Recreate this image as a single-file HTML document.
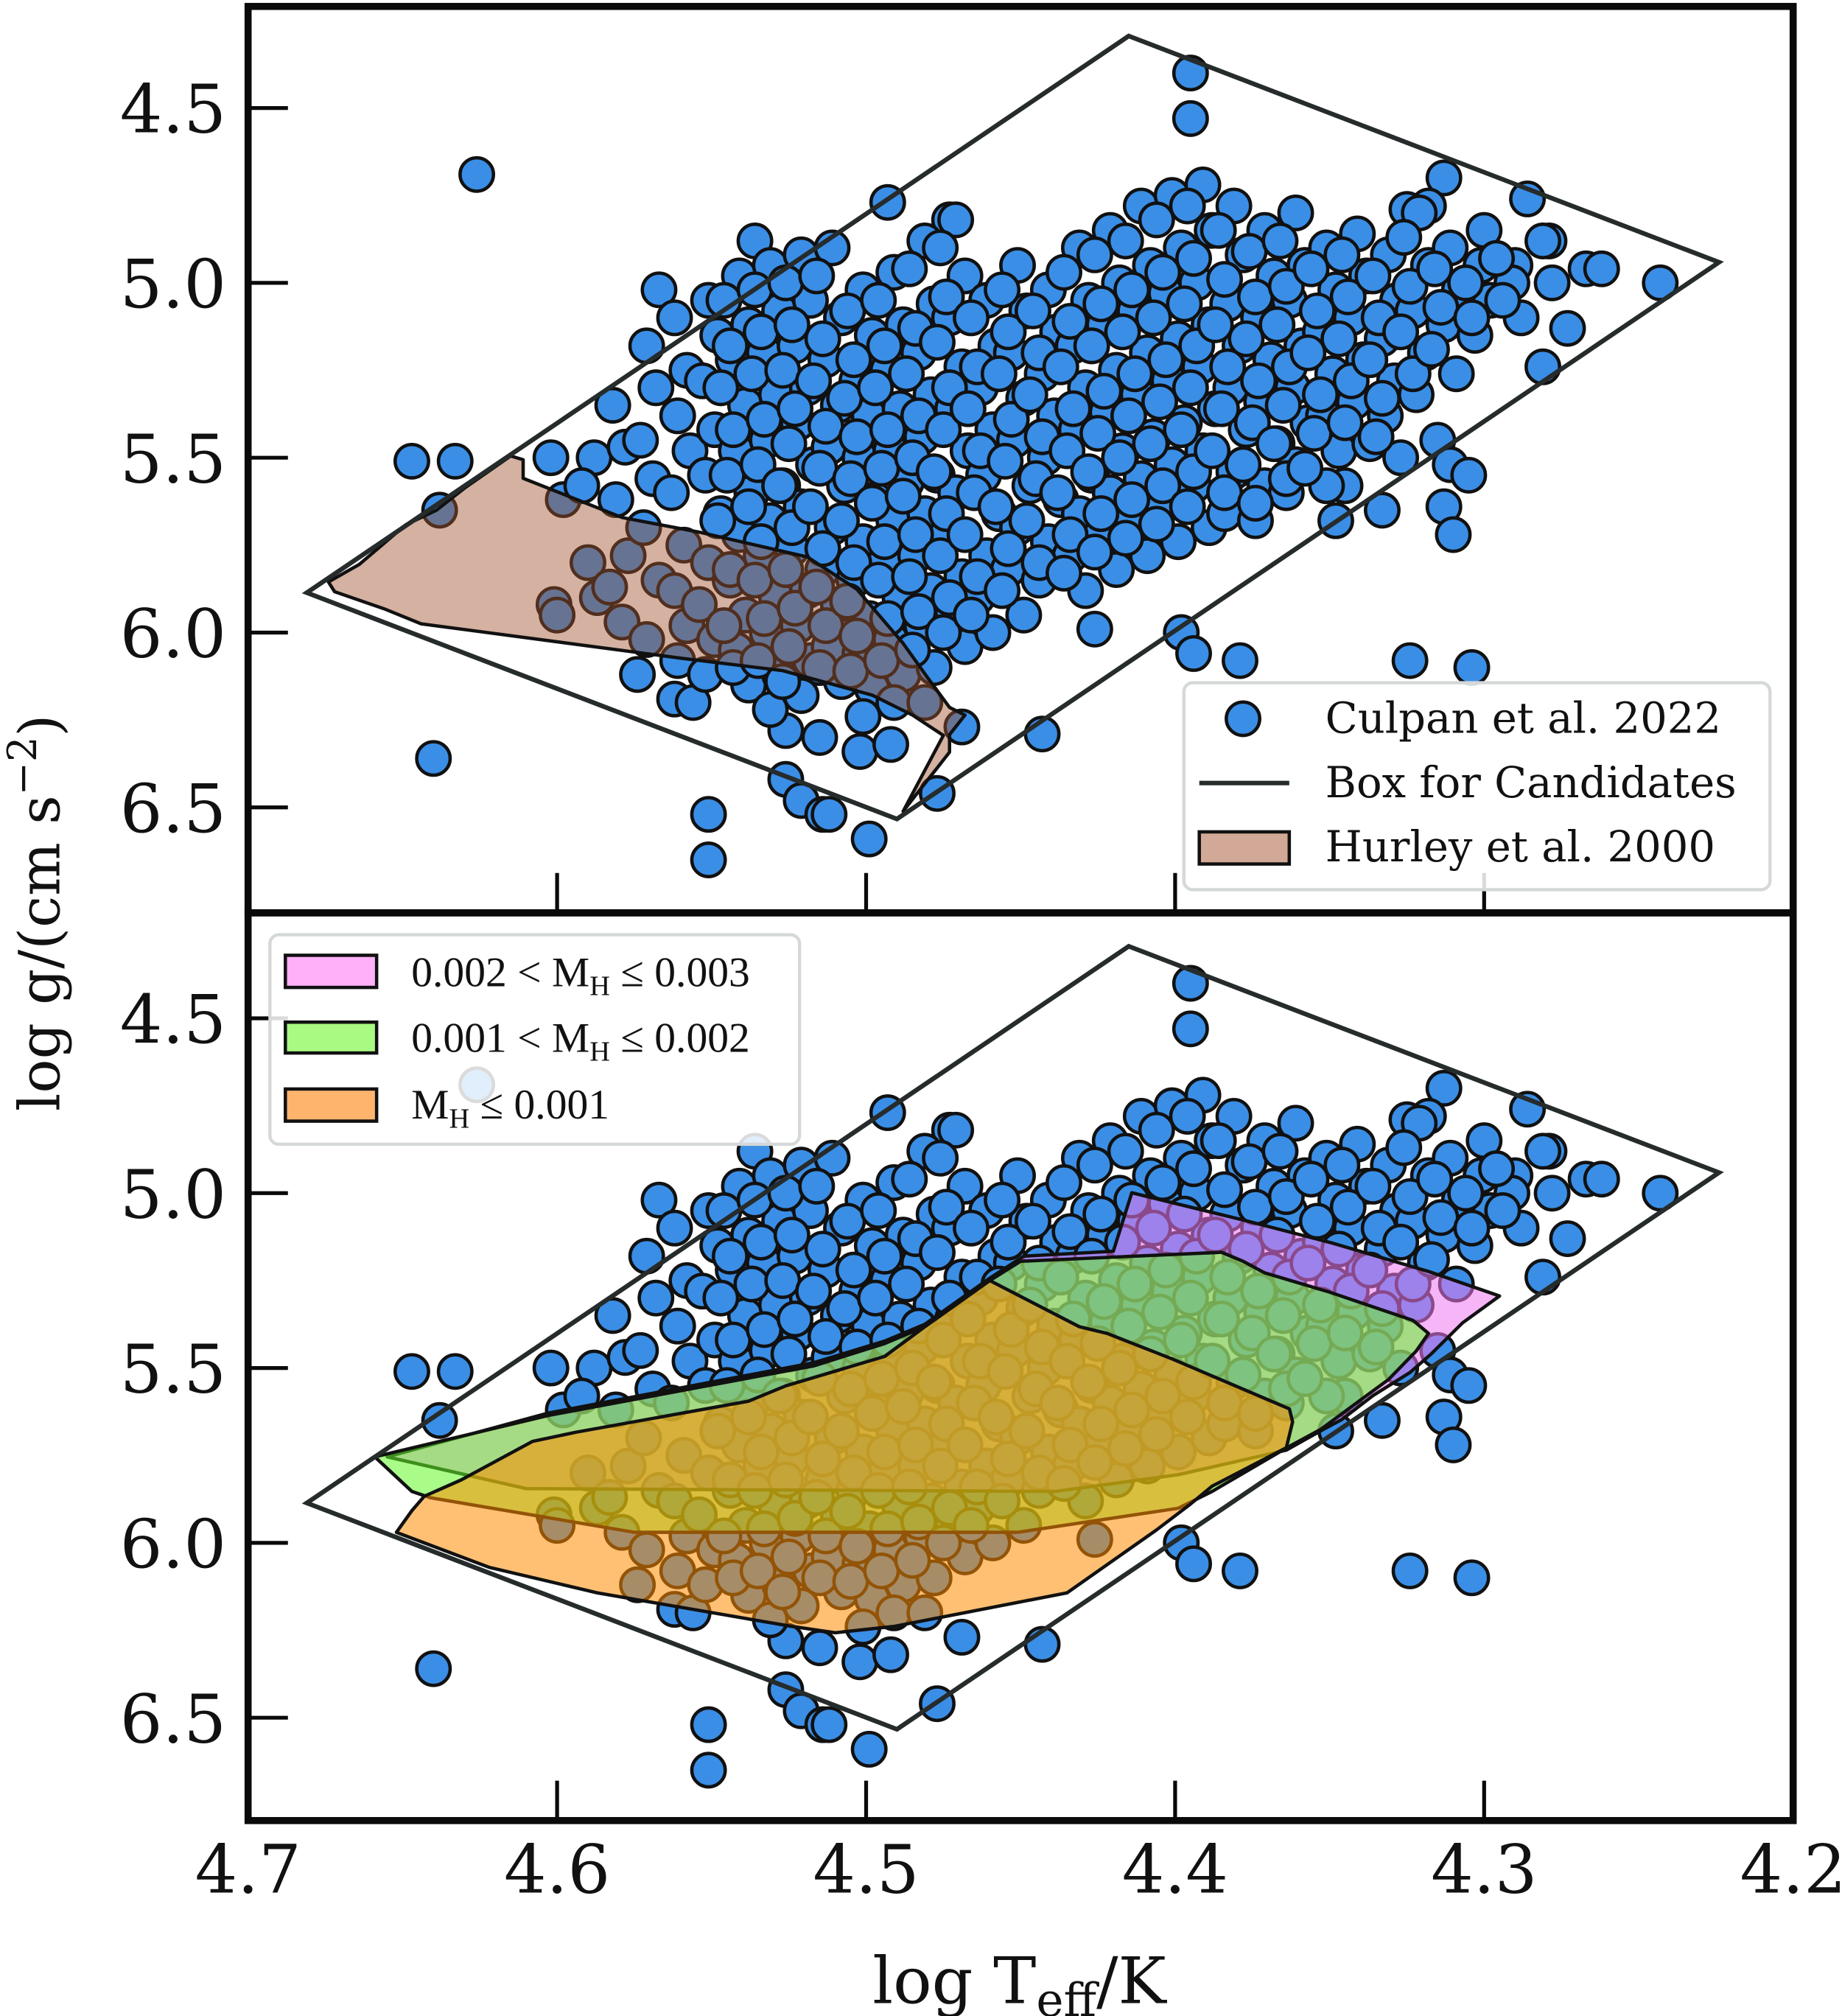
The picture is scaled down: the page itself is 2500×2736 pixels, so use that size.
<!DOCTYPE html>
<html><head><meta charset="utf-8"><title>log g vs log Teff</title>
<style>html,body{margin:0;padding:0;background:#fff;}svg{display:block;}</style></head>
<body>
<svg id="chart" xmlns="http://www.w3.org/2000/svg" width="2500" height="2736" viewBox="0 0 1433 1568" preserveAspectRatio="none">
<rect x="0" y="0" width="1433" height="1568" fill="#fff"/>
<g id="topPanel"></g>
<g id="botPanel"></g>
<g id="axesLayer"></g>
</svg>
<script>
const xTicks=[4.7,4.6,4.5,4.4,4.3,4.2];
const xTickLabels=["4.7","4.6","4.5","4.4","4.3","4.2"];
const yTicks=[4.5,5.0,5.5,6.0,6.5];
const yTickLabels=["4.5","5.0","5.5","6.0","6.5"];
const boxT=[4.681,4.415,4.224,4.490];
const boxG=[5.886,4.294,4.941,6.533];
const hurleyT=[4.674,4.664,4.649,4.639,4.630,4.615,4.611,4.611,4.579,4.554,4.519,4.503,4.488,4.480,4.473,4.468,4.473,4.473,4.478,4.483,4.488,4.475,4.485,4.498,4.527,4.560,4.644,4.656,4.672];
const hurleyG=[5.855,5.805,5.692,5.650,5.587,5.495,5.506,5.559,5.671,5.713,5.784,5.876,6.031,6.130,6.214,6.236,6.292,6.342,6.398,6.454,6.511,6.294,6.236,6.179,6.109,6.073,5.975,5.932,5.883];
const pinkT=[4.414,4.378,4.349,4.318,4.295,4.307,4.317,4.324,4.336,4.346,4.353,4.364,4.399,4.439,4.610,4.655,4.603,4.517,4.494,4.481,4.460,4.449,4.420];
const pinkG=[4.999,5.077,5.143,5.224,5.294,5.371,5.459,5.513,5.579,5.647,5.680,5.735,5.805,5.853,5.845,5.754,5.629,5.485,5.423,5.375,5.243,5.180,5.166];
const greenT=[4.659,4.603,4.517,4.494,4.481,4.460,4.450,4.385,4.378,4.371,4.350,4.323,4.318,4.322,4.331,4.353,4.363,4.388,4.399,4.451,4.575,4.641,4.647];
const greenG=[5.754,5.636,5.494,5.430,5.382,5.250,5.195,5.169,5.195,5.228,5.283,5.364,5.401,5.452,5.533,5.676,5.724,5.853,5.901,5.970,5.970,5.871,5.853];
const orangeT=[4.631,4.608,4.594,4.538,4.526,4.494,4.481,4.460,4.431,4.422,4.401,4.363,4.362,4.364,4.388,4.395,4.406,4.435,4.491,4.510,4.524,4.587,4.622,4.652,4.647,4.643];
const orangeG=[5.820,5.710,5.684,5.595,5.551,5.467,5.382,5.250,5.382,5.401,5.474,5.617,5.654,5.728,5.838,5.889,5.963,6.143,6.239,6.257,6.239,6.143,6.070,5.970,5.908,5.867];
const culpanT=[4.626,4.395,4.395,4.647,4.633,4.638,4.640,4.551,4.551,4.499,4.526,4.521,4.514,4.512,4.477,4.443,4.469,4.526,4.515,4.502,4.492,4.562,4.398,4.394,4.379,4.324,4.304,4.243,4.273,4.281,4.315,4.311,4.305,4.313,4.310,4.345,4.333,4.348,4.267,4.286,4.313,4.325,4.426,4.473,4.493,4.567,4.536,4.318,4.300,4.279,4.262,4.290,4.601,
4.602,4.598,4.600,4.588,4.592,4.590,4.587,4.582,4.578,4.581,4.577,4.583,4.579,4.571,4.568,4.573,4.569,4.572,4.567,4.571,4.574,
4.562,4.558,4.561,4.557,4.563,4.559,4.562,4.558,4.561,4.556,4.551,4.548,4.553,4.549,4.552,4.547,4.551,4.554,4.549,4.552,
4.541,4.538,4.543,4.539,4.542,4.537,4.541,4.544,4.539,4.542,4.538,4.531,4.528,4.533,4.529,4.532,4.527,4.531,4.534,4.529,4.532,4.528,4.531,
4.521,4.518,4.523,4.519,4.522,4.517,4.521,4.524,4.519,4.522,4.518,4.521,4.511,4.508,4.513,4.509,4.512,4.507,4.511,4.514,4.509,4.512,4.508,
4.501,4.498,4.503,4.499,4.502,4.497,4.501,4.504,4.499,4.502,4.498,4.501,4.491,4.488,4.493,4.489,4.492,4.487,4.491,4.494,4.489,4.492,4.488,4.491,
4.481,4.478,4.483,4.479,4.482,4.477,4.481,4.484,4.479,4.482,4.478,4.481,4.471,4.468,4.473,4.469,4.472,4.467,4.471,4.474,4.469,4.472,4.468,
4.461,4.458,4.463,4.459,4.462,4.457,4.461,4.464,4.459,4.451,4.448,4.453,4.449,4.452,4.447,4.451,4.454,4.449,
4.441,4.438,4.443,4.439,4.442,4.437,4.441,4.444,4.431,4.428,4.433,4.429,4.432,4.427,4.431,4.434,4.429,
4.421,4.418,4.423,4.419,4.422,4.417,4.421,4.424,4.419,4.411,4.408,4.413,4.409,4.412,4.407,4.411,4.414,4.409,
4.401,4.398,4.403,4.399,4.402,4.397,4.401,4.404,4.399,4.391,4.388,4.393,4.389,4.392,4.387,4.391,4.394,4.389,
4.381,4.378,4.383,4.379,4.382,4.377,4.381,4.384,4.371,4.368,4.373,4.369,4.372,4.367,4.371,4.374,
4.361,4.358,4.363,4.359,4.362,4.357,4.361,4.364,4.351,4.348,4.353,4.349,4.352,4.347,4.351,
4.341,4.338,4.343,4.339,4.342,4.337,4.331,4.328,4.333,4.329,4.332,4.327,
4.321,4.318,4.323,4.319,4.322,4.311,4.308,4.313,4.309,4.301,4.298,4.303,4.291,4.288,4.281,4.278];
const culpanG=[4.69,4.40,4.53,5.51,5.51,5.65,6.36,6.52,6.65,6.59,6.42,6.48,6.52,6.52,6.46,6.29,6.27,6.28,6.30,6.34,6.32,6.19,6.00,6.06,6.08,6.08,6.10,5.00,5.13,5.24,5.45,5.52,5.55,5.64,5.72,5.58,5.65,5.68,4.96,4.76,4.70,4.79,5.99,4.82,4.77,5.02,4.88,4.78,4.85,4.88,4.96,4.95,5.92,
5.50,5.62,5.95,5.50,5.58,5.80,5.90,5.35,5.47,5.62,5.78,5.87,5.97,5.18,5.30,5.45,5.56,5.70,5.85,6.02,6.12,
5.10,5.25,5.38,5.48,5.60,5.75,5.88,5.98,6.08,6.20,5.05,5.15,5.28,5.42,5.55,5.66,5.80,5.92,6.02,6.12,
4.98,5.12,5.22,5.35,5.48,5.60,5.72,5.85,5.95,6.05,6.15,4.95,5.08,5.20,5.32,5.45,5.58,5.68,5.78,5.90,6.00,6.12,6.22,
4.92,5.05,5.18,5.30,5.40,5.52,5.64,5.76,5.88,5.98,6.08,6.18,4.90,5.10,5.22,5.35,5.47,5.58,5.70,5.82,5.92,6.04,6.14,
5.02,5.15,5.28,5.38,5.50,5.62,5.74,5.85,5.96,6.06,6.16,6.24,4.97,5.12,5.25,5.36,5.48,5.57,5.68,5.80,5.90,6.02,6.12,6.20,
4.88,5.06,5.20,5.32,5.44,5.55,5.66,5.78,5.88,5.98,6.10,6.20,4.82,4.98,5.10,5.24,5.36,5.48,5.60,5.72,5.84,5.94,6.04,
5.05,5.18,5.30,5.42,5.55,5.66,5.78,5.90,6.00,4.95,5.08,5.20,5.33,5.45,5.58,5.70,5.82,5.95,
5.02,5.14,5.26,5.38,5.50,5.62,5.74,5.85,4.90,5.05,5.18,5.30,5.42,5.55,5.66,5.78,5.88,
4.85,5.00,5.12,5.25,5.37,5.48,5.60,5.72,5.82,4.78,4.95,5.08,5.20,5.32,5.44,5.56,5.68,5.78,
4.75,4.90,5.03,5.16,5.28,5.40,5.52,5.64,5.74,4.72,4.85,5.00,5.12,5.24,5.36,5.48,5.58,5.70,
4.78,4.92,5.06,5.18,5.30,5.42,5.54,5.66,4.85,4.98,5.10,5.22,5.34,5.46,5.58,5.68,
4.80,4.95,5.05,5.18,5.30,5.40,5.52,5.60,4.90,5.02,5.14,5.26,5.38,5.48,5.58,
4.86,4.98,5.10,5.22,5.34,5.46,4.92,5.05,5.16,5.28,5.38,5.50,
4.80,4.95,5.08,5.20,5.32,4.90,5.02,5.12,5.26,4.95,5.05,5.15,5.00,5.10,4.88,5.00];
const extraT=[4.546,4.544,4.547,4.543,4.545,4.548,4.544,4.546,4.543,
4.536,4.534,4.537,4.533,4.535,4.538,4.534,4.536,4.533,4.535,
4.526,4.524,4.527,4.523,4.525,4.528,4.524,4.526,4.523,4.525,4.527,
4.516,4.514,4.517,4.513,4.515,4.518,4.514,4.516,4.513,4.515,
4.506,4.504,4.507,4.503,4.505,4.508,4.504,4.506,4.503,4.505,
4.496,4.494,4.497,4.493,4.495,4.498,4.494,4.496,4.493,4.495,
4.486,4.484,4.487,4.483,4.485,4.488,4.484,4.486,4.483,4.485,
4.476,4.474,4.477,4.473,4.475,4.478,4.474,4.476,4.473,4.475,
4.466,4.464,4.467,4.463,4.465,4.468,4.464,4.466,
4.456,4.454,4.457,4.453,4.455,4.458,4.454,4.456,
4.446,4.444,4.447,4.443,4.445,4.448,4.444,
4.436,4.434,4.437,4.433,4.435,4.438,4.434,4.436,
4.426,4.424,4.427,4.423,4.425,4.428,4.424,4.426,
4.416,4.414,4.417,4.413,4.415,4.418,4.414,4.416,
4.406,4.404,4.407,4.403,4.405,4.408,4.404,4.406,
4.396,4.394,4.397,4.393,4.395,4.398,4.394,4.396,
4.386,4.384,4.387,4.383,4.385,4.388,4.384,
4.376,4.374,4.377,4.373,4.375,4.378,4.374,
4.366,4.364,4.367,4.363,4.365,4.368,4.364,
4.356,4.354,4.357,4.353,4.355,4.358,
4.346,4.344,4.347,4.343,4.345,
4.336,4.334,4.337,4.333,4.335,
4.326,4.324,4.327,4.323,
4.316,4.314,4.317,
4.306,4.304,4.296,4.294];
const extraG=[5.05,5.18,5.30,5.42,5.55,5.68,5.82,5.98,6.10,
5.02,5.14,5.26,5.39,5.52,5.64,5.74,5.85,5.96,6.08,
5.00,5.12,5.25,5.36,5.46,5.58,5.70,5.82,5.93,6.04,6.14,
4.98,5.16,5.28,5.41,5.53,5.64,5.76,5.87,5.98,6.10,
5.08,5.22,5.33,5.44,5.56,5.68,5.80,5.91,6.01,6.11,
5.05,5.18,5.30,5.42,5.53,5.63,5.74,5.85,5.96,6.08,
4.96,5.13,5.26,5.38,5.50,5.61,5.72,5.84,5.94,6.05,
4.90,5.04,5.17,5.30,5.42,5.54,5.66,5.78,5.90,6.00,
5.10,5.24,5.36,5.48,5.60,5.72,5.84,5.95,
5.02,5.14,5.26,5.39,5.51,5.64,5.76,5.88,
5.08,5.20,5.32,5.44,5.56,5.68,5.80,
4.97,5.11,5.24,5.36,5.48,5.60,5.72,5.83,
4.92,5.06,5.18,5.31,5.43,5.54,5.66,5.77,
4.88,5.02,5.14,5.26,5.38,5.50,5.62,5.73,
4.82,4.97,5.10,5.22,5.34,5.46,5.58,5.69,
4.78,4.93,5.06,5.18,5.30,5.42,5.54,5.64,
4.85,4.99,5.12,5.24,5.36,5.48,5.60,
4.91,5.04,5.16,5.28,5.40,5.52,5.63,
4.88,5.01,5.12,5.24,5.35,5.46,5.56,
4.96,5.08,5.20,5.32,5.43,5.53,
4.92,5.04,5.16,5.28,5.40,
4.98,5.10,5.22,5.33,5.44,
4.87,5.01,5.14,5.26,
4.96,5.07,5.19,
5.00,5.10,4.93,5.05];

const NS="http://www.w3.org/2000/svg";
const X0=193, XW=1202, Y45=84, PY=272;
function xs(t){return X0+(4.7-t)/0.5*XW;}
function ys(g,off){return off+Y45+(g-4.5)*PY;}
function mk(tag,parent,attrs){const e=document.createElementNS(NS,tag);for(const k in attrs)e.setAttribute(k,attrs[k]);parent.appendChild(e);return e;}
function ptsStr(T,G,off){return T.map((t,i)=>xs(t).toFixed(1)+","+ys(G[i],off).toFixed(1)).join(" ");}

const topG=document.getElementById('topPanel'), botG=document.getElementById('botPanel'), axesG=document.getElementById('axesLayer');
const panels=[{g:topG,off:0,y0:5,y1:710,name:'top'},{g:botG,off:708,y0:710,y1:1416,name:'bottom'}];

const defs=mk('defs',document.getElementById('chart'),{});
panels.forEach((p,i)=>{const c=mk('clipPath',defs,{id:'clip'+i});mk('rect',c,{x:X0,y:p.y0,width:XW,height:p.y1-p.y0});p.g.setAttribute('clip-path','url(#clip'+i+')');});

const allT=culpanT.concat(extraT), allG=culpanG.concat(extraG);
panels.forEach((p)=>{
  for(let i=0;i<allT.length;i++){
    const c=mk('circle',p.g,{cx:xs(allT[i]).toFixed(1),cy:ys(allG[i],p.off).toFixed(1),r:13,fill:'#3a8ee6',stroke:'#111','stroke-width':2.6});
    
    
  }
});
const hp=mk('polygon',topG,{points:ptsStr(hurleyT,hurleyG,0),fill:'rgba(160,82,45,0.45)',stroke:'#111','stroke-width':2.6,'stroke-linejoin':'round'});


const pp=mk('polygon',botG,{points:ptsStr(pinkT,pinkG,708),fill:'rgba(238,120,238,0.55)',stroke:'#111','stroke-width':2.6,'stroke-linejoin':'round'});


const gp=mk('polygon',botG,{points:ptsStr(greenT,greenG,708),fill:'rgba(100,250,40,0.55)',stroke:'#111','stroke-width':2.6,'stroke-linejoin':'round'});


const op=mk('polygon',botG,{points:ptsStr(orangeT,orangeG,708),fill:'rgba(255,140,0,0.55)',stroke:'#111','stroke-width':2.6,'stroke-linejoin':'round'});


panels.forEach((p)=>{
  const b=mk('polygon',p.g,{points:ptsStr(boxT,boxG,p.off),fill:'none',stroke:'#262b2b','stroke-width':3.6,'stroke-linejoin':'miter'});
  
  
});

panels.forEach((p)=>{
  const f=mk('rect',axesG,{x:X0,y:p.y0,width:XW,height:p.y1-p.y0,fill:'none',stroke:'#0a0a0a','stroke-width':5.5});
  
  
  yTicks.forEach((v,i)=>{
    const y=ys(v,p.off);
    const t=mk('line',axesG,{x1:X0,x2:X0+31,y1:y,y2:y,stroke:'#0a0a0a','stroke-width':3});
    
    
    const l=mk('text',axesG,{x:176,y:y+19,'text-anchor':'end','font-family':'"DejaVu Serif","Liberation Serif",serif','font-size':52,fill:'#111'});
    l.textContent=yTickLabels[i];
    
    
  });
  xTicks.forEach((v)=>{
    if(v===4.7||v===4.2)return;
    const x=xs(v);
    const t=mk('line',axesG,{x1:x,x2:x,y1:p.y1,y2:p.y1-31,stroke:'#0a0a0a','stroke-width':3});
    
    
  });
});
xTicks.forEach((v,i)=>{
  const l=mk('text',axesG,{x:xs(v),y:1472,'text-anchor':'middle','font-family':'"DejaVu Serif","Liberation Serif",serif','font-size':52,fill:'#111'});
  l.textContent=xTickLabels[i];
  
  
});
</script>
<svg style="position:absolute;left:0;top:0" width="2500" height="2736" viewBox="0 0 1433 1568" preserveAspectRatio="none">
<text x="793" y="1558" text-anchor="middle" font-family="'DejaVu Serif','Liberation Serif',serif" font-size="50" fill="#111">log T<tspan font-size="36" dy="10">eff</tspan><tspan dy="-10">/K</tspan></text>
<text transform="translate(46,710) rotate(-90)" text-anchor="middle" font-family="'DejaVu Serif','Liberation Serif',serif" font-size="44" fill="#111">log g/(cm s<tspan font-size="31" dy="-18">−2</tspan><tspan dy="18">)</tspan></text>
<g>
<rect x="921" y="531" width="456" height="161" rx="7" fill="rgba(255,255,255,0.85)" stroke="#d4d8d8" stroke-width="2.5"/>
<circle cx="967" cy="559" r="13" fill="#3a8ee6" stroke="#111" stroke-width="2.6"/>
<text x="1031" y="570" font-family="'DejaVu Serif','Liberation Serif',serif" font-size="33" fill="#111">Culpan et al. 2022</text>
<line x1="933" x2="1003" y1="609" y2="609" stroke="#262b2b" stroke-width="3.5"/>
<text x="1031" y="620" font-family="'DejaVu Serif','Liberation Serif',serif" font-size="33" fill="#111">Box for Candidates</text>
<rect x="933" y="647" width="70" height="25" fill="#d2a896" stroke="#111" stroke-width="2.6"/>
<text x="1031" y="670" font-family="'DejaVu Serif','Liberation Serif',serif" font-size="33" fill="#111">Hurley et al. 2000</text>
</g>
<g font-family="'Liberation Serif',serif" fill="#111">
<rect x="210" y="727" width="412" height="163" rx="7" fill="rgba(255,255,255,0.85)" stroke="#d4d8d8" stroke-width="2.5"/>
<rect x="222" y="743" width="71" height="25" fill="#ffb0f8" stroke="#111" stroke-width="2.6"/>
<text x="320" y="767" font-size="33">0.002 &lt;  M<tspan font-size="22" dy="7">H</tspan><tspan dy="-7"> ≤ 0.003</tspan></text>
<rect x="222" y="795" width="71" height="24" fill="#a8fa82" stroke="#111" stroke-width="2.6"/>
<text x="320" y="818" font-size="33">0.001 &lt;  M<tspan font-size="22" dy="7">H</tspan><tspan dy="-7"> ≤ 0.002</tspan></text>
<rect x="222" y="847" width="71" height="25" fill="#ffb46e" stroke="#111" stroke-width="2.6"/>
<text x="320" y="870" font-size="33">M<tspan font-size="22" dy="7">H</tspan><tspan dy="-7"> ≤ 0.001</tspan></text>
</g>
</svg>
</body></html>
